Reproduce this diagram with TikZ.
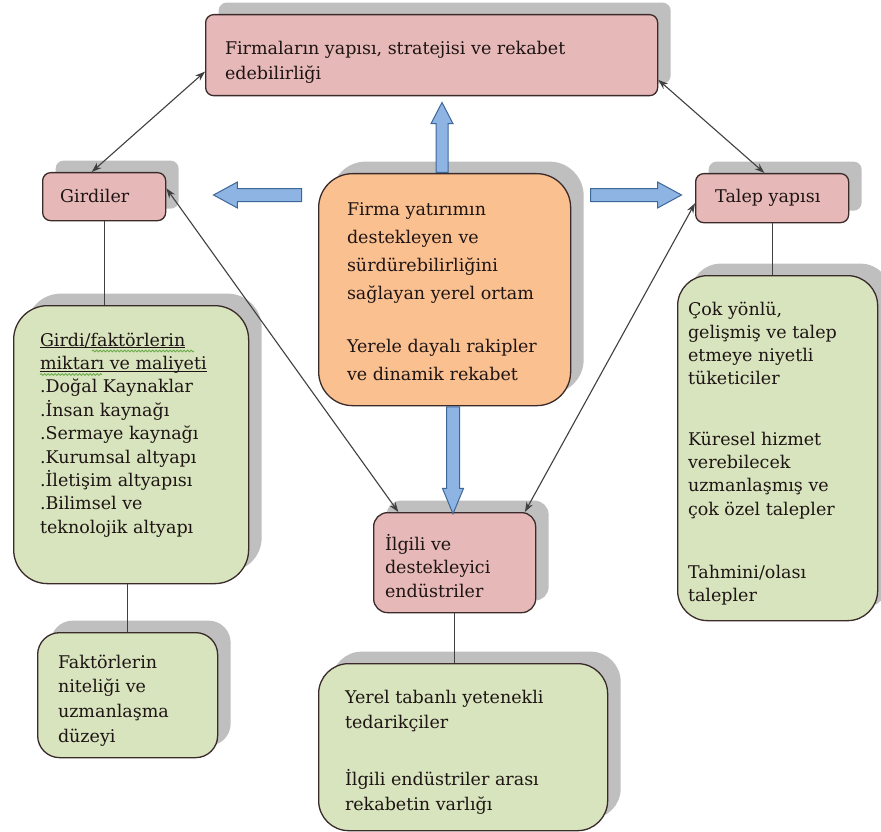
\documentclass[tikz,border=0pt]{standalone}
\usepackage{fontspec}
\setmainfont{DejaVu Serif}
\usetikzlibrary{shadows,shapes.arrows,arrows.meta,calc,decorations.pathmorphing}
\definecolor{pinkf}{HTML}{E6B9B8}
\definecolor{greenf}{HTML}{D7E4BD}
\definecolor{orangef}{HTML}{FAC090}
\definecolor{shadc}{HTML}{BFBFBF}
\definecolor{bordc}{HTML}{3A2A2A}
\definecolor{bluef}{HTML}{8EB4E3}
\definecolor{blued}{HTML}{3D6699}
\definecolor{txtc}{HTML}{1E1414}
\definecolor{linec}{HTML}{404040}
\definecolor{spellc}{HTML}{6AAA4A}
\newcommand{\mystrut}{\rule{0pt}{20pt}}
\newcommand{\myul}[1]{\underline{\smash{#1}}}
\begin{document}
\begin{tikzpicture}[x=1pt,y=-1pt,
  box/.style={draw=bordc, line width=1.3pt, inner sep=0pt, anchor=north west,
    drop shadow={shadow xshift=13pt, shadow yshift=12pt, fill=shadc, opacity=1}},
  pinkbox/.style={box, fill=pinkf, rounded corners=8pt},
  greenbox/.style={box, fill=greenf, rounded corners=#1},
  orangebox/.style={box, fill=orangef, rounded corners=34pt},
  txt/.style={inner sep=0pt, outer sep=0pt, align=left, text=txtc, anchor=north west,
    font=\fontsize{17.5}{#1}\selectfont},
  txt/.default=23.4,
  stxt/.style={inner sep=0pt, text=txtc, anchor=base west, font=\fontsize{17.5}{24}\selectfont},
  link/.style={draw=linec, line width=1.1pt},
  dbl/.style={link, {Stealth[length=10pt,width=7pt]}-{Stealth[length=10pt,width=7pt]}},
  barrow/.style={single arrow, draw=blued, fill=bluef, line width=1pt, anchor=tail,
    single arrow head indent=0pt, minimum width=0pt},
  spell/.style={draw=spellc, line width=0.8pt, decorate,
    decoration={snake, amplitude=0.9pt, segment length=3.5pt}}
]
\useasboundingbox (0,0) rectangle (881,832);
\fill[white] (0,0) rectangle (881,832);

% boxes
\node[pinkbox, minimum width=452, minimum height=81] (firm) at (205,14) {};
\node[pinkbox, minimum width=123, minimum height=48] (gird) at (42,172) {};
\node[pinkbox, minimum width=153, minimum height=49] (talep) at (695,173) {};
\node[orangebox, minimum width=252, minimum height=232] (cent) at (318,173) {};
\node[pinkbox, rounded corners=14pt, minimum width=162, minimum height=100] (ilgili) at (373,512) {};
\node[greenbox=34pt, minimum width=235, minimum height=278] (gfac) at (13,305) {};
\node[greenbox=22pt, minimum width=180, minimum height=125] (fakt) at (37,632) {};
\node[greenbox=30pt, minimum width=200, minimum height=345] (talepg) at (677,275) {};
\node[greenbox=30pt, minimum width=289, minimum height=167] (yerel) at (318,663) {};

% texts
\node[txt=25] (tfirm) at (225,35) {\mystrut Firmaların yapısı, stratejisi ve rekabet\\edebilirliği};
\node[stxt] (tgird) at (60,202) {Girdiler};
\node[stxt] (ttalep) at (715,202) {Talep yapısı};
\node[txt=28] (tcent) at (347,195) {\mystrut Firma yatırımın\\destekleyen ve\\sürdürebilirliğini\\sağlayan yerel ortam\\[25pt]Yerele dayalı rakipler\\ve dinamik rekabet};
\node[txt=23.4] (tgfac) at (40,326) {\mystrut\myul{Girdi/faktörlerin}\\\myul{miktarı ve maliyeti}\\.Doğal Kaynaklar\\.İnsan kaynağı\\.Sermaye kaynağı\\.Kurumsal altyapı\\.İletişim altyapısı\\.Bilimsel ve\\teknolojik altyapı};
\node[txt=23.3] (ttalepg) at (688,295) {\mystrut Çok yönlü,\\gelişmiş ve talep\\etmeye niyetli\\tüketiciler\\[37pt]Küresel hizmet\\verebilecek\\uzmanlaşmış ve\\çok özel talepler\\[40pt]Tahmini/olası\\talepler};
\node[txt=24.7] (tfakt) at (58,648) {\mystrut Faktörlerin\\niteliği ve\\uzmanlaşma\\düzeyi};
\node[txt=23.5] (tilg) at (385,530) {\mystrut İlgili ve\\destekleyici\\endüstriler};
\node[txt=25] (tyerel) at (345,683) {\mystrut Yerel tabanlı yetenekli\\tedarikçiler\\[32pt]İlgili endüstriler arası\\rekabetin varlığı};

% spell-check marks
\draw[spell] (92,351) -- (194,351);
\draw[spell] (40,374.5) -- (102,374.5);

% block arrows
\node[barrow, inner sep=5.5pt, minimum height=70, single arrow head extend=5pt,
  single arrow tip angle=55, shape border rotate=90] (aup) at (cent.north -| 442,0) {};
\node[barrow, inner sep=6pt, minimum height=88, single arrow head extend=6.5pt,
  single arrow tip angle=57, shape border rotate=180] (aleft) at (302,195) {};
\node[barrow, inner sep=6pt, minimum height=91, single arrow head extend=6.5pt,
  single arrow tip angle=57, shape border rotate=0] (aright) at (590,195) {};
\node[barrow, inner sep=6pt, minimum height=107, single arrow head extend=4pt,
  single arrow tip angle=45, shape border rotate=270] (adown) at (cent.south -| 453,0) {};

% plain lines
\draw[link] (gird.south) -- (gird.south |- gfac.north);
\draw[link] (fakt.north |- gfac.south) -- (fakt.north);
\draw[link] (talep.south) -- (talep.south |- talepg.north);
\draw[link] (ilgili.south) -- (ilgili.south |- yerel.north);

% double arrows
\draw[dbl] ($(gird.north west)!0.4!(gird.north east)$) -- ($(firm.south west)!0.3!(firm.north west)$);
\draw[dbl] ($(firm.south east)!0.2!(firm.north east)$) -- ($(talep.north west)!0.45!(talep.north east)$);
\draw[dbl] ($(gird.north east)!0.33!(gird.south east)$) -- ($(ilgili.north west)!0.155!(ilgili.north east)$);
\draw[dbl] ($(talep.north west)!0.6!(talep.south west)$) -- ($(ilgili.north west)!0.93!(ilgili.north east)$);
\end{tikzpicture}
\end{document}
